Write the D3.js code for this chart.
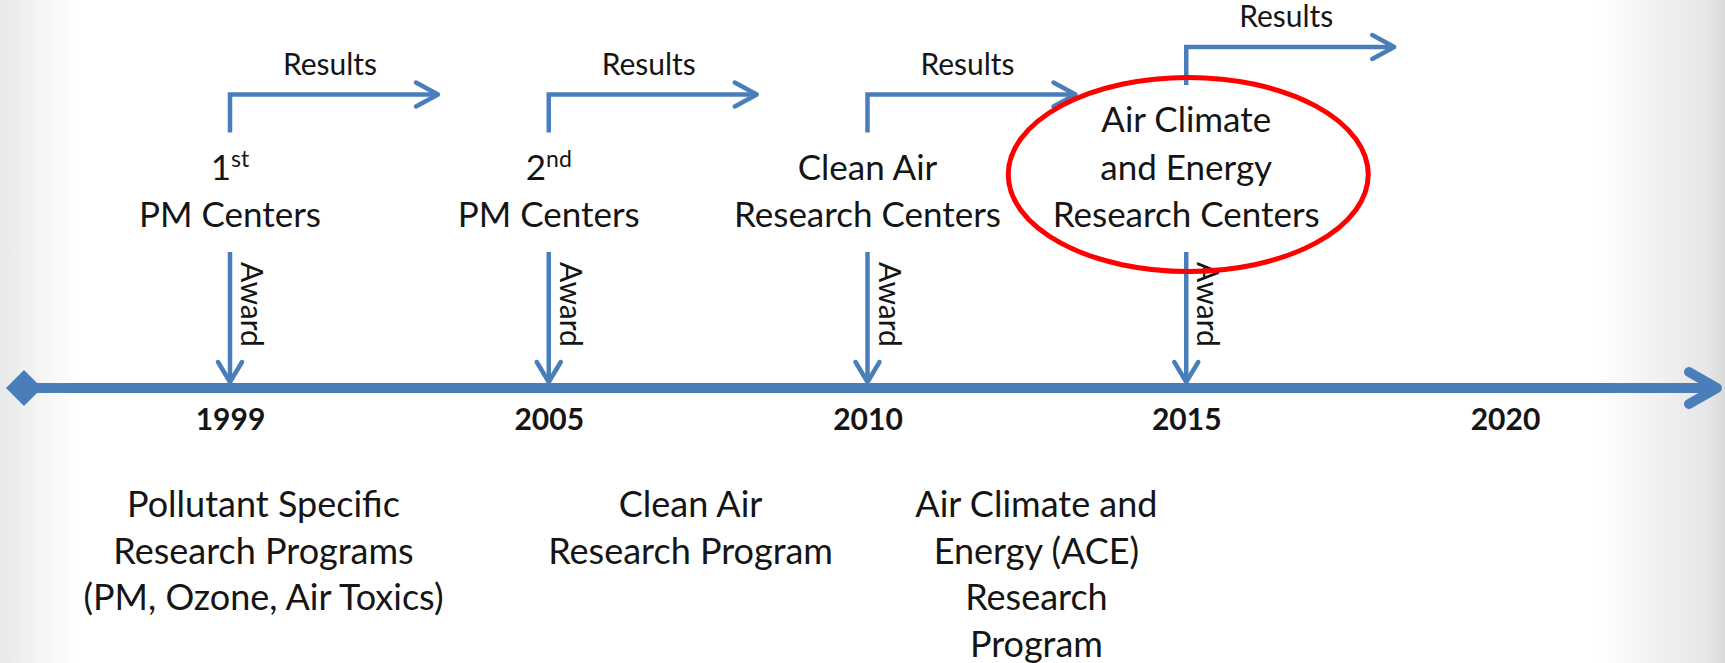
<!DOCTYPE html>
<html>
<head>
<meta charset="utf-8">
<title>Research centers timeline</title>
<script src="https://cdn.jsdelivr.net/npm/d3@7"></script>
<style>
  body { margin: 0; background: #fff; }
  text { font-family: Lato, "Open Sans", sans-serif; fill: #151515; }
</style>
</head>
<body>
<svg id="chart"></svg>
<script>
// --- data ---
var years = ["1999", "2005", "2010", "2015", "2020"];
var centerYears = ["1999", "2005", "2010", "2015"];
var centerLines = [
  ["1", "PM Centers"],
  ["2", "PM Centers"],
  ["Clean Air", "Research Centers"],
  ["Air Climate", "and Energy", "Research Centers"]
];
var centerSup = ["st", "nd", "", ""];
var highlightYear = "2015";
var programYears = ["1999", "2005", "2010"];
var programLines = [
  ["Pollutant Specific", "Research Programs", "(PM, Ozone, Air Toxics)"],
  ["Clean Air", "Research Program"],
  ["Air Climate and", "Energy (ACE)", "Research", "Program"]
];
var resultsLabel = "Results";
var awardLabel = "Award";

// --- layout ---
var width = 1725, height = 663;
var blue = "#4A7EBB";
var axisY = 388;
var lineH = 47.5;
var lastLineY = 227;
var programShift = [0.105, 0.445, 0.53]; // fraction of a step right of the anchor year

var svg = d3.select("#chart")
  .attr("width", width)
  .attr("height", height);

// slide-like grey fade on both sides
var grad = svg.append("defs").append("linearGradient")
  .attr("id", "bg").attr("x1", 0).attr("x2", 1).attr("y1", 0).attr("y2", 0);
[[0, "#e8e9e9"], [0.045, "#ffffff"], [0.925, "#ffffff"], [0.99, "#e6e6e6"], [1, "#d9d9d9"]]
  .forEach(function(s) {
    grad.append("stop").attr("offset", s[0]).attr("stop-color", s[1]);
  });
svg.append("rect").attr("width", width).attr("height", height).attr("fill", "url(#bg)");

var x = d3.scalePoint().domain(years).range([230, 1505]);
var step = x.step();

// open arrow head, tip at (tx, ty)
function chevron(g, tx, ty, dir, len, half, sw) {
  var p = dir == "right"
    ? "M" + (tx - len) + "," + (ty - half) + "L" + tx + "," + ty + "L" + (tx - len) + "," + (ty + half)
    : "M" + (tx - half) + "," + (ty - len) + "L" + tx + "," + ty + "L" + (tx + half) + "," + (ty - len);
  g.append("path").attr("d", p)
    .attr("fill", "none").attr("stroke", blue).attr("stroke-width", sw)
    .attr("stroke-linecap", "round").attr("stroke-linejoin", "round");
}

// main timeline
var tl = svg.append("g");
tl.append("line")
  .attr("x1", 24).attr("x2", 1715)
  .attr("y1", axisY).attr("y2", axisY)
  .attr("stroke", blue).attr("stroke-width", 10);
tl.append("path")
  .attr("d", d3.symbol().type(d3.symbolSquare).size(2 * 18 * 18))
  .attr("transform", "translate(24," + axisY + ") rotate(45)")
  .attr("fill", blue);
chevron(tl, 1717, axisY, "right", 28, 16, 10);

// year labels via axis
var axis = d3.axisBottom(x).tickSize(0).tickPadding(21);
var ax = svg.append("g")
  .attr("transform", "translate(0," + axisY + ")")
  .call(axis);
ax.select(".domain").remove();
ax.selectAll("text")
  .style("font-family", "Lato, sans-serif")
  .style("font-weight", "bold")
  .style("font-size", "30px")
  .attr("fill", "#111");

// centers: label, award arrow, results bracket
centerYears.forEach(function(yr, i) {
  var cx = x(yr);
  var lines = centerLines[i];
  var firstY = lastLineY - (lines.length - 1) * lineH;
  var g = svg.append("g");

  var t = g.append("text").attr("text-anchor", "middle").style("font-size", "35px");
  lines.forEach(function(s, j) {
    t.append("tspan").attr("x", cx).attr("y", firstY + j * lineH).text(s);
    if (j == 0 && centerSup[i]) {
      t.append("tspan").attr("dy", -13).style("font-size", "23px").text(centerSup[i]);
    }
  });

  // award arrow down to the timeline
  g.append("line")
    .attr("x1", cx).attr("x2", cx)
    .attr("y1", 252).attr("y2", axisY - 6)
    .attr("stroke", blue).attr("stroke-width", 4.5);
  chevron(g, cx, axisY - 6, "down", 20, 12, 4.5);
  g.append("text")
    .attr("transform", "translate(" + (cx + 11) + ",262) rotate(90)")
    .style("font-size", "30px")
    .text(awardLabel);

  // results bracket
  var vBottom = firstY - 47;
  var hY = vBottom - 38;
  var tip = cx + 208;
  g.append("path")
    .attr("d", "M" + cx + "," + vBottom + "V" + hY + "H" + tip)
    .attr("fill", "none").attr("stroke", blue).attr("stroke-width", 4.5);
  chevron(g, tip, hY, "right", 22, 12, 4.5);
  g.append("text")
    .attr("x", cx + 100).attr("y", hY - 20)
    .attr("text-anchor", "middle")
    .style("font-size", "30px")
    .text(resultsLabel);
});

// research programs below the axis
programYears.forEach(function(yr, i) {
  var px = x(yr) + step * programShift[i];
  var t = svg.append("text").attr("text-anchor", "middle").style("font-size", "36px");
  programLines[i].forEach(function(s, j) {
    t.append("tspan").attr("x", px).attr("y", 517 + j * 46.7).text(s);
  });
});

// red ring around the highlighted centers
svg.append("ellipse")
  .attr("cx", x(highlightYear) + 2).attr("cy", 174.5)
  .attr("rx", 180).attr("ry", 97)
  .attr("fill", "none").attr("stroke", "#ff0000").attr("stroke-width", 5);
</script>
</body>
</html>
